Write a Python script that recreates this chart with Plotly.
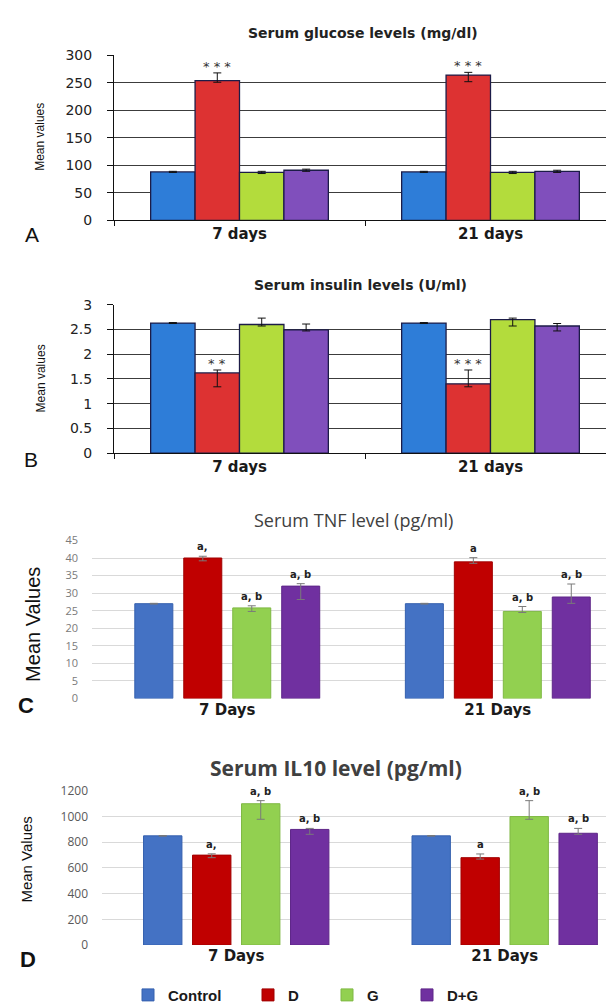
import plotly.graph_objects as go

W, H = 614, 1004

groups = ["Control", "D", "G", "D+G"]
days_ab = ["7 days", "21 days"]
days_cd = ["7 Days", "21 Days"]

# Panel A - Serum glucose levels (mg/dl); one list per group: [7 days, 21 days]
glucose_mean = [[88, 88], [254, 264], [87, 87], [91, 89]]
glucose_err_plus = [[1, 1], [14, 5], [2, 2], [2, 2]]
glucose_err_minus = [[1, 1], [3, 12], [2, 2], [2, 2]]
glucose_sig = [["", ""], ["* * *", "* * *"], ["", ""], ["", ""]]

# Panel B - Serum insulin levels (U/ml)
insulin_mean = [[2.63, 2.63], [1.62, 1.40], [2.60, 2.70], [2.49, 2.57]]
insulin_err_plus = [[0.01, 0.01], [0.06, 0.28], [0.13, 0.03], [0.12, 0.05]]
insulin_err_minus = [[0.01, 0.01], [0.28, 0.06], [0.03, 0.13], [0.02, 0.10]]
insulin_sig = [["", ""], ["* *", "* * *"], ["", ""], ["", ""]]

# Panel C - Serum TNF level (pg/ml)
tnf_mean = [[27, 27], [40, 38.9], [25.8, 24.8], [32, 28.9]]
tnf_err_plus = [[0.1, 0.1], [0.5, 1.2], [0.6, 1.4], [0.7, 3.7]]
tnf_err_minus = [[0.1, 0.1], [0.8, 0.4], [1.0, 0.3], [3.8, 1.8]]
tnf_sig = [["", ""], ["a,", "a"], ["a, b", "a, b"], ["a, b", "a, b"]]

# Panel D - Serum IL10 level (pg/ml)
il10_mean = [[850, 850], [700, 680], [1100, 1000], [900, 870]]
il10_err_plus = [[2, 2], [10, 29], [24, 124], [8, 38]]
il10_err_minus = [[2, 2], [20, 11], [121, 21], [38, 8]]
il10_sig = [["", ""], ["a,", "a"], ["a, b", "a, b"], ["a, b", "a, b"]]

ab_colors = ["#2E7DD8", "#DD3232", "#B3DC3C", "#804FBC"]
cd_colors = ["#4472C4", "#C00000", "#92D050", "#7030A0"]
cd_edges = ["#3560AE", "#A00000", "#7FB844", "#5E2688"]


def px_x(p):
    return p / W


def px_y(p):
    return 1 - p / H


fig = go.Figure()

panels = [
    dict(ax="", cats=days_ab, mean=glucose_mean, ep=glucose_err_plus, em=glucose_err_minus,
         sig=glucose_sig, colors=ab_colors, edges=["#1C1C48"] * 4, edgew=1.3, errc="#111111",
         width=0.177, pitch=0.177, legend=False),
    dict(ax="2", cats=days_ab, mean=insulin_mean, ep=insulin_err_plus, em=insulin_err_minus,
         sig=insulin_sig, colors=ab_colors, edges=["#1C1C48"] * 4, edgew=1.3, errc="#111111",
         width=0.177, pitch=0.177, legend=False),
    dict(ax="3", cats=days_cd, mean=tnf_mean, ep=tnf_err_plus, em=tnf_err_minus,
         sig=tnf_sig, colors=cd_colors, edges=cd_edges, edgew=1, errc="#7a7a7a",
         width=0.1405, pitch=0.181, legend=False),
    dict(ax="4", cats=days_cd, mean=il10_mean, ep=il10_err_plus, em=il10_err_minus,
         sig=il10_sig, colors=cd_colors, edges=cd_edges, edgew=1, errc="#7a7a7a",
         width=0.143, pitch=0.1825, legend=True),
]

annotations = []
for p in panels:
    xa = "x" + p["ax"]
    ya = "y" + p["ax"]
    for i, g in enumerate(groups):
        off = (i - 1.5) * p["pitch"] - p["width"] / 2
        fig.add_trace(go.Bar(
            x=p["cats"], y=p["mean"][i], name=g,
            xaxis=xa, yaxis=ya,
            width=p["width"], offset=off,
            marker=dict(color=p["colors"][i], line=dict(color=p["edges"][i], width=p["edgew"])),
            error_y=dict(type="data", symmetric=False, array=p["ep"][i], arrayminus=p["em"][i],
                         color=p["errc"], thickness=1, width=4),
            showlegend=p["legend"],
            legend="legend" if i == 0 else f"legend{i + 1}",
            hoverinfo="skip",
        ))
        for j in range(2):
            txt = p["sig"][i][j]
            if not txt:
                continue
            star = "*" in txt
            annotations.append(dict(
                xref=xa, yref=ya,
                x=j + (i - 1.5) * p["pitch"],
                y=p["mean"][i][j] + p["ep"][i][j],
                text=txt, showarrow=False, yanchor="bottom",
                yshift=-3 if star else 2,
                font=dict(family="DejaVu Sans", size=13 if star else 10,
                          color="#333333" if star else "#222222",
                          weight="normal" if star else "bold"),
            ))

# Axis layout
ab_x = dict(type="category", range=[-0.5, 1.5], showline=True, linecolor="#111111", linewidth=1,
            ticks="outside", tickson="boundaries", ticklen=5, tickcolor="#111111",
            showgrid=False, tickfont=dict(family="DejaVu Sans", size=15, color="#1a1a1a", weight="bold"),
            domain=[px_x(106), px_x(608)], fixedrange=True)
ab_y = dict(showline=True, linecolor="#111111", linewidth=1, ticks="outside", ticklen=6,
            tickcolor="#111111", showgrid=True, gridcolor="#3c3c3c", gridwidth=1, zeroline=False,
            tickfont=dict(family="DejaVu Sans", size=14, color="#222222"), ticklabelstandoff=12)

fig.update_layout(
    width=W, height=H,
    margin=dict(l=0, r=0, t=0, b=0),
    paper_bgcolor="white", plot_bgcolor="white",
    barmode="overlay",
    xaxis=dict(ab_x, anchor="y"),
    yaxis=dict(ab_y, anchor="x", range=[0, 300], dtick=50, domain=[px_y(207), px_y(39)]),
    xaxis2=dict(ab_x, anchor="y2"),
    yaxis2=dict(ab_y, anchor="x2", range=[0, 3], dtick=0.5, domain=[px_y(444), px_y(293)]),
    xaxis3=dict(type="category", range=[-0.5, 1.459], anchor="y3", showline=False, ticks="",
                showgrid=False, domain=[px_x(84), 1],
                tickfont=dict(family="DejaVu Sans", size=15, color="#1a1a1a", weight="bold")),
    yaxis3=dict(anchor="x3", range=[0, 45], dtick=5, showline=False, ticks="", showgrid=True,
                gridcolor="#d9d9d9", gridwidth=1, zeroline=False, domain=[px_y(694), px_y(533)],
                tickfont=dict(family="Open Sans", size=11, color="#7a7a7a"), ticklabelstandoff=13),
    xaxis4=dict(type="category", range=[-0.5, 1.437], anchor="y4", showline=False, ticks="",
                showgrid=False, domain=[px_x(94), 1],
                tickfont=dict(family="DejaVu Sans", size=15, color="#1a1a1a", weight="bold")),
    yaxis4=dict(anchor="x4", range=[0, 1200], dtick=200, showline=False, ticks="", showgrid=True,
                gridcolor="#d9d9d9", gridwidth=1, zeroline=False, domain=[px_y(945), px_y(788)],
                tickfont=dict(family="Open Sans", size=12, color="#595959"), ticklabelstandoff=13),
)

# Legends (one per group so each entry sits where the reference puts it)
legend_font = dict(family="Liberation Sans", size=15, color="#1a1a1a", weight="bold")
legend_text_x = [160, 280, 359, 439]
for i, lx in enumerate(legend_text_x):
    key = "legend" if i == 0 else f"legend{i + 1}"
    fig.update_layout({key: dict(x=px_x(lx - 40), y=px_y(996), xanchor="left", yanchor="middle",
                                 orientation="h", font=legend_font, bgcolor="rgba(0,0,0,0)",
                                 borderwidth=0)})

# Titles
titles = [
    ("Serum glucose levels (mg/dl)", 355, 16, dict(family="DejaVu Sans", size=14, color="#222222", weight="bold")),
    ("Serum insulin levels (U/ml)", 352, 273, dict(family="DejaVu Sans", size=14, color="#222222", weight="bold")),
    ("Serum TNF level (pg/ml)", 345, 512, dict(family="Open Sans", size=18, color="#404040")),
    ("Serum IL10 level (pg/ml)", 328, 765, dict(family="Open Sans", size=21, color="#404040", weight="bold")),
]
for t, x, y, f in titles:
    annotations.append(dict(xref="paper", yref="paper", x=px_x(x), y=px_y(y), text=t,
                            showarrow=False, xanchor="center", yanchor="middle", font=f))

ytitles = [
    ("Mean values", 32, 122, 12),
    ("Mean values", 33, 368, 12),
    ("Mean Values", 25, 619, 20),
    ("Mean Values", 19, 858, 15),
]
for t, x, y, s in ytitles:
    annotations.append(dict(xref="paper", yref="paper", x=px_x(x), y=px_y(y), text=t, textangle=-90,
                            showarrow=False, xanchor="center", yanchor="middle",
                            font=dict(family="Liberation Sans", size=s, color="#111111")))

letters = [("A", 24, 221, 21, "normal"), ("B", 23, 451, 21, "normal"),
           ("C", 18, 701, 22, "bold"), ("D", 20, 960, 22, "bold")]
for t, x, y, s, w in letters:
    annotations.append(dict(xref="paper", yref="paper", x=px_x(x), y=px_y(y), text=t,
                            showarrow=False, xanchor="center", yanchor="middle",
                            font=dict(family="Liberation Sans", size=s, color="#111111", weight=w)))

fig.update_layout(annotations=annotations)

fig.write_html("out.html")
